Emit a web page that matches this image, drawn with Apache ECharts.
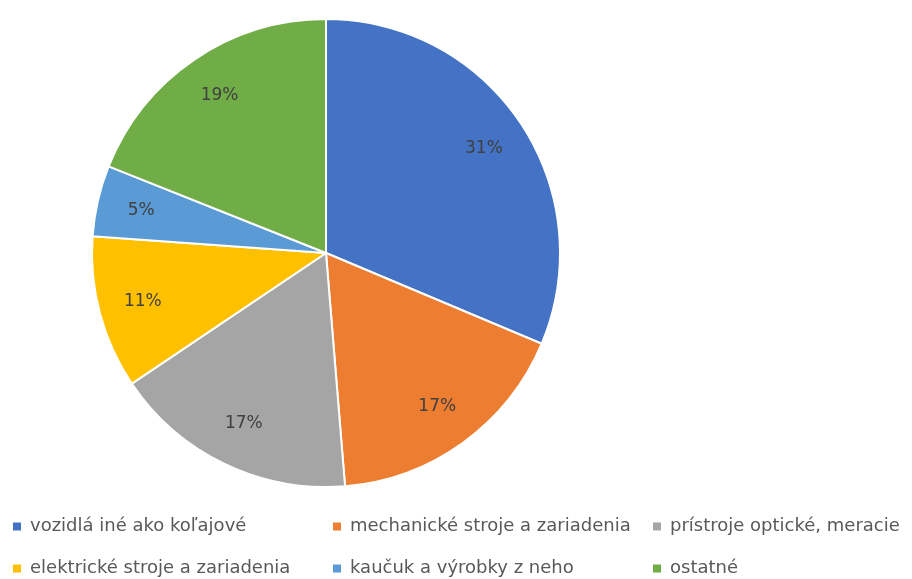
<!DOCTYPE html>
<html>
<head>
<meta charset="utf-8">
<script src="https://cdn.jsdelivr.net/npm/echarts@6/dist/echarts.min.js"></script>
<style>
html,body{margin:0;padding:0;background:#fff;}
#chart{width:912px;height:579px;}
</style>
</head>
<body>
<div id="chart"></div>
<script>
const categories = ['vozidlá iné ako koľajové', 'mechanické stroje a zariadenia', 'prístroje optické, meracie', 'elektrické stroje a zariadenia', 'kaučuk a výrobky z neho', 'ostatné'];
const values = [31.4, 17.4, 16.9, 10.6, 4.9, 19.0];
const colors = ['#4472C4', '#ED7D31', '#A5A5A5', '#FFC000', '#5B9BD5', '#70AD47'];

const CX = 326, CY = 253, R = 234;
const chart = echarts.init(document.getElementById('chart'));
chart.setOption({
  animation: false,
  color: colors,
  legend: {
    data: categories,
    left: 13,
    top: 512,
    width: 960,
    padding: 0,
    itemWidth: 8,
    itemHeight: 8,
    itemGap: 13,
    itemTextGap: 9,
    icon: 'rect',
    itemStyle: { borderWidth: 0 },
    textStyle: { fontFamily: 'DejaVu Sans', fontSize: 18, color: '#595959', width: 290, lineHeight: 29, overflow: 'none', padding: [0, 0, 0, 4] }
  },
  series: [{
    type: 'pie',
    center: [CX, CY],
    radius: [0, R],
    startAngle: 90,
    clockwise: true,
    data: categories.map((c, i) => ({ name: c, value: values[i] })),
    itemStyle: { borderColor: '#fff', borderWidth: 2 },
    label: {
      position: 'inside',
      formatter: p => Math.round(p.percent) + '%',
      fontFamily: 'DejaVu Sans',
      fontSize: 17,
      color: '#404040'
    },
    labelLayout: function (params) {
      const r = params.labelRect;
      const x = r.x + r.width / 2, y = r.y + r.height / 2;
      return { x: CX + (x - CX) * 1.58, y: CY + (y - CY) * 1.58 };
    },
    emphasis: { disabled: true }
  }]
});
</script>
</body>
</html>
